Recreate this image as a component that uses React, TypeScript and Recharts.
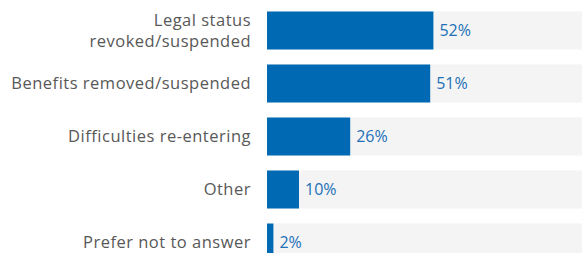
import { BarChart, Bar, XAxis, YAxis, LabelList } from "recharts";

const categories = [
  "Legal status\nrevoked/suspended",
  "Benefits removed/suspended",
  "Difficulties re-entering",
  "Other",
  "Prefer not to answer",
];
const shares = [52, 51, 26, 10, 2];

const data = categories.map((name, i) => ({ name, value: shares[i] }));

const BLUE = "#0069b4";
const FONT = "'Open Sans', sans-serif";

function CategoryTick(props: any) {
  const { x, y, payload } = props;
  const lines: string[] = String(payload.value).split("\n");
  const lineHeight = 21;
  const start = -((lines.length - 1) * lineHeight) / 2;
  return (
    <text
      x={x}
      y={y}
      textAnchor="end"
      fill="#585858"
      fontSize={16.5}
      letterSpacing={0.5}
      fontFamily={FONT}
    >
      {lines.map((line, i) => (
        <tspan key={i} x={x} dy={i === 0 ? start + 6.2 : lineHeight}>
          {line}
        </tspan>
      ))}
    </text>
  );
}

export default function App() {
  return (
    <div
      style={{
        position: "absolute",
        left: 0,
        top: 0,
        width: 582,
        height: 253,
        overflow: "hidden",
        background: "#fff",
      }}
    >
      <BarChart
        width={587}
        height={272}
        layout="vertical"
        data={data}
        margin={{ top: 3.5, right: 0, bottom: 3.5, left: 0 }}
        barSize={38}
      >
        <XAxis type="number" domain={[0, 100]} hide />
        <YAxis
          type="category"
          dataKey="name"
          width={267}
          axisLine={false}
          tickLine={false}
          tickSize={0}
          tickMargin={16}
          interval={0}
          tick={<CategoryTick />}
        />
        <Bar
          dataKey="value"
          fill={BLUE}
          background={{ fill: "#f4f4f4" }}
          isAnimationActive={false}
        >
          <LabelList
            dataKey="value"
            position="right"
            offset={6}
            fill="#2270b8"
            fontSize={16}
            fontFamily={FONT}
            formatter={(v: any) => `${v}%`}
          />
        </Bar>
      </BarChart>
    </div>
  );
}
